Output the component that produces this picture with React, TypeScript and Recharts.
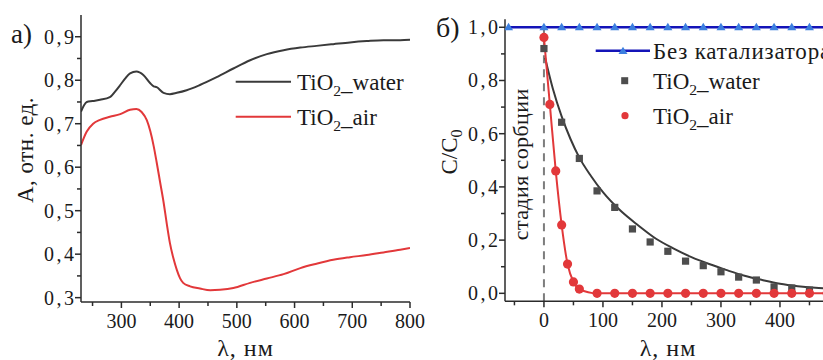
import React from 'react';
import { LineChart, Line, XAxis, YAxis, ReferenceLine, Legend } from 'recharts';

const SERIF = '"Liberation Serif", "Times New Roman", Times, serif';
const AXIS_COLOR = '#2b2b2b';
const TEXT_COLOR = '#1a1a1a';
const WATER_COLOR = '#3a3a3a';
const WATER_MARK = '#4d4d4d';
const AIR_COLOR = '#e2383a';
const BLUE_LINE = '#1414b8';
const BLUE_MARK = '#3c7fe0';
const DASH_COLOR = '#7d7d7d';

// ---------- panel a: absorbance spectra ----------
const spectraWavelengthWater = [230, 235, 240, 250, 263, 280, 289, 298, 306, 315, 326, 338, 350, 356, 361, 373, 384, 396, 413, 436, 465, 494, 523, 552, 581, 610, 638, 667, 696, 725, 754, 783, 800];
const spectraWater = [0.728, 0.742, 0.750, 0.752, 0.755, 0.761, 0.774, 0.789, 0.803, 0.816, 0.820, 0.812, 0.793, 0.786, 0.784, 0.771, 0.768, 0.771, 0.777, 0.789, 0.807, 0.827, 0.846, 0.860, 0.869, 0.875, 0.879, 0.883, 0.887, 0.890, 0.892, 0.892, 0.893];
const spectraWavelengthAir = [230, 240, 251, 263, 280, 298, 315, 326, 335, 344, 350, 356, 361, 367, 373, 378.5, 384, 390, 396, 401.5, 407, 419, 436, 454, 471, 494, 523, 552, 581, 610, 638, 667, 696, 725, 754, 783, 800];
const spectraAir = [0.651, 0.682, 0.700, 0.709, 0.716, 0.722, 0.732, 0.734, 0.727, 0.708, 0.683, 0.648, 0.612, 0.566, 0.520, 0.471, 0.426, 0.391, 0.364, 0.345, 0.334, 0.326, 0.321, 0.317, 0.318, 0.322, 0.334, 0.344, 0.354, 0.368, 0.378, 0.387, 0.393, 0.398, 0.404, 0.410, 0.414];
const spectraXTicks = [250, 300, 350, 400, 450, 500, 550, 600, 650, 700, 750, 800];
const spectraYTicks = [0.3, 0.35, 0.4, 0.45, 0.5, 0.55, 0.6, 0.65, 0.7, 0.75, 0.8, 0.85, 0.9];

// ---------- panel b: kinetics ----------
const timeBlank = [-60, 0, 30, 60, 90, 120, 150, 180, 210, 240, 270, 300, 330, 360, 390, 420, 450, 480];
const blankValues = [1.0, 1.0, 1.0, 1.0, 1.0, 1.0, 1.0, 1.0, 1.0, 1.0, 1.0, 1.0, 1.0, 1.0, 1.0, 1.0, 1.0, 1.0];
const timeWater = [0, 30, 60, 90, 120, 150, 180, 210, 240, 270, 300, 330, 360, 390, 420, 450, 480];
const waterValues = [0.92, 0.643, 0.507, 0.385, 0.323, 0.242, 0.193, 0.158, 0.121, 0.104, 0.081, 0.061, 0.05, 0.024, 0.02, 0.012, 0.01];
const timeWaterFit = [2, 15, 30, 45, 60, 80, 100, 130, 160, 190, 220, 250, 280, 310, 340, 370, 400, 430, 460, 490];
const waterFitValues = [0.885, 0.77, 0.665, 0.58, 0.51, 0.44, 0.38, 0.31, 0.255, 0.205, 0.168, 0.136, 0.11, 0.087, 0.066, 0.05, 0.036, 0.027, 0.021, 0.017];
const timeAir = [0, 10, 20, 30, 40, 50, 60, 90, 120, 150, 180, 210, 240, 270, 300, 330, 360, 390, 420, 450, 480];
const airValues = [0.962, 0.71, 0.46, 0.257, 0.11, 0.043, 0.016, 0.0, 0.0, 0.0, 0.0, 0.0, 0.0, 0.0, 0.0, 0.0, 0.0, 0.0, 0.0, 0.0, 0.0];
const kineticsXTicks = [-50, 0, 50, 100, 150, 200, 250, 300, 350, 400, 450];
const kineticsYTicks = [0, 0.1, 0.2, 0.3, 0.4, 0.5, 0.6, 0.7, 0.8, 0.9, 1.0];

const toPoints = (xs: number[], ys: number[]) => xs.map((x, i) => ({ x, v: ys[i] }));

const fmt = (v: number) => v.toFixed(1).replace('.', ',');

const makeXTick = (isMajor: (v: number) => boolean) => (props: any) => {
  const { x, y, payload } = props;
  const v = payload.value;
  const major = isMajor(v);
  return (
    <g>
      <line x1={x} x2={x} y1={y} y2={y + (major ? 6 : 4)} stroke={AXIS_COLOR} strokeWidth={1.5} />
      {major && (
        <text x={x} y={y + 26} textAnchor="middle" fontFamily={SERIF} fontSize={20} fill={TEXT_COLOR}>
          {v}
        </text>
      )}
    </g>
  );
};

const makeYTick = (isMajor: (v: number) => boolean) => (props: any) => {
  const { x, y, payload } = props;
  const v = payload.value;
  const major = isMajor(v);
  return (
    <g>
      <line x1={x} x2={x - (major ? 6 : 4)} y1={y} y2={y} stroke={AXIS_COLOR} strokeWidth={1.5} />
      {major && (
        <text
          x={x - 4.5}
          y={y + 7}
          textAnchor="end"
          fontFamily={SERIF}
          fontSize={20}
          letterSpacing={2.5}
          fill={TEXT_COLOR}
        >
          {fmt(v)}
        </text>
      )}
    </g>
  );
};

const TiO2 = ({ x, y, suffix, size }: { x: number; y: number; suffix: string; size: number }) => (
  <text x={x} y={y} fontFamily={SERIF} fontSize={size} fill={TEXT_COLOR}>
    TiO
    <tspan fontSize={size * 0.68} dy={size * 0.28}>2</tspan>
    <tspan dy={-size * 0.28}>{suffix}</tspan>
  </text>
);

const LegendA = () => (
  <svg width={190} height={75} style={{ overflow: 'visible' }}>
    <line x1={5.7} x2={61} y1={21.7} y2={21.7} stroke={WATER_COLOR} strokeWidth={2} />
    <TiO2 x={67} y={29.5} suffix="_water" size={23} />
    <line x1={5.7} x2={61} y1={56.7} y2={56.7} stroke={AIR_COLOR} strokeWidth={2} />
    <TiO2 x={67} y={64.5} suffix="_air" size={23} />
  </svg>
);

const LegendB = () => (
  <svg width={260} height={100} style={{ overflow: 'visible' }}>
    <line x1={5.7} x2={60} y1={20.7} y2={20.7} stroke={BLUE_LINE} strokeWidth={2.5} />
    <polygon points="33,16.7 37.5,24 28.5,24" fill={BLUE_MARK} />
    <text x={63} y={28.5} fontFamily={SERIF} fontSize={23} letterSpacing={0.8} fill={TEXT_COLOR}>
      Без катализатора
    </text>
    <rect x={31.2} y={47.2} width={7} height={7} fill={WATER_MARK} />
    <TiO2 x={63} y={58.5} suffix="_water" size={23} />
    <circle cx={35} cy={85.7} r={3.6} fill={AIR_COLOR} />
    <TiO2 x={63} y={93.5} suffix="_air" size={23} />
  </svg>
);

const squareDot = (p: any) => (
  <rect key={`sq-${p.index}`} x={p.cx - 3.6} y={p.cy - 3.6} width={7.2} height={7.2} fill={WATER_MARK} />
);
const triDot = (p: any) => (
  <polygon
    key={`tr-${p.index}`}
    points={`${p.cx},${p.cy - 4.5} ${p.cx + 4.5},${p.cy + 3} ${p.cx - 4.5},${p.cy + 3}`}
    fill={BLUE_MARK}
  />
);
const roundDot = (p: any) => (
  <circle key={`ci-${p.index}`} cx={p.cx} cy={p.cy} r={4.6} fill={AIR_COLOR} />
);

const PanelA = () => (
  <LineChart width={440} height={360} margin={{ top: 15, right: 30, bottom: 0, left: 0 }}>
    <XAxis
      type="number"
      dataKey="x"
      domain={[230, 800]}
      allowDataOverflow
      ticks={spectraXTicks}
      interval={0}
      tickSize={0}
      tickMargin={0}
      tickLine={false}
      height={58}
      axisLine={{ stroke: AXIS_COLOR, strokeWidth: 1.5 }}
      tick={makeXTick((v) => v % 100 === 0)}
      label={{
        content: () => (
          <text
            x={245.5}
            y={356}
            textAnchor="middle"
            fontFamily={SERIF}
            fontSize={24}
            letterSpacing={1}
            fill={TEXT_COLOR}
          >
            λ, нм
          </text>
        ),
      }}
    />
    <YAxis
      type="number"
      domain={[0.29, 0.95]}
      allowDataOverflow
      ticks={spectraYTicks}
      interval={0}
      tickSize={0}
      tickMargin={0}
      tickLine={false}
      width={81}
      axisLine={{ stroke: AXIS_COLOR, strokeWidth: 1.5 }}
      tick={makeYTick((v) => Math.round(v * 100) % 10 === 0)}
      label={{
        content: () => (
          <g>
            <text x={11} y={43} fontFamily={SERIF} fontSize={27} fill={TEXT_COLOR}>а)</text>
            <text
              x={33}
              y={150}
              transform="rotate(-90 33 150)"
              textAnchor="middle"
              fontFamily={SERIF}
              fontSize={23}
              letterSpacing={0.5}
              fill={TEXT_COLOR}
            >
              A, отн. ед.
            </text>
          </g>
        ),
      }}
    />
    <Legend
      layout="vertical"
      align="center"
      verticalAlign="middle"
      wrapperStyle={{ left: 230, top: 60, width: 200 }}
      content={() => <LegendA />}
    />
    <Line
      data={toPoints(spectraWavelengthWater, spectraWater)}
      dataKey="v"
      type="monotone"
      stroke={WATER_COLOR}
      strokeWidth={2}
      dot={false}
      activeDot={false}
      isAnimationActive={false}
    />
    <Line
      data={toPoints(spectraWavelengthAir, spectraAir)}
      dataKey="v"
      type="monotone"
      stroke={AIR_COLOR}
      strokeWidth={2}
      dot={false}
      activeDot={false}
      isAnimationActive={false}
    />
  </LineChart>
);

const PanelB = () => (
  <LineChart width={420} height={360} margin={{ top: 19.3, right: 8.7, bottom: 0, left: 0 }}>
    <XAxis
      type="number"
      dataKey="x"
      domain={[-66, 487]}
      allowDataOverflow
      ticks={kineticsXTicks}
      interval={0}
      tickSize={0}
      tickMargin={0}
      tickLine={false}
      height={58.7}
      axisLine={{ stroke: AXIS_COLOR, strokeWidth: 1.5 }}
      tick={makeXTick((v) => v % 100 === 0)}
      label={{
        content: () => (
          <text
            x={248}
            y={356}
            textAnchor="middle"
            fontFamily={SERIF}
            fontSize={24}
            letterSpacing={1}
            fill={TEXT_COLOR}
          >
            λ, нм
          </text>
        ),
      }}
    />
    <YAxis
      type="number"
      domain={[-0.03, 1.03]}
      allowDataOverflow
      ticks={kineticsYTicks}
      interval={0}
      tickSize={0}
      tickMargin={0}
      tickLine={false}
      width={85}
      axisLine={{ stroke: AXIS_COLOR, strokeWidth: 1.5 }}
      tick={makeYTick((v) => Math.round(v * 10) % 2 === 0)}
      label={{
        content: () => (
          <g>
            <text x={16} y={37} fontFamily={SERIF} fontSize={28} fill={TEXT_COLOR}>б)</text>
            <text
              x={37}
              y={152}
              transform="rotate(-90 37 152)"
              textAnchor="middle"
              fontFamily={SERIF}
              fontSize={23}
              fill={TEXT_COLOR}
            >
              C/C
              <tspan fontSize={16} dy={5}>0</tspan>
            </text>
          </g>
        ),
      }}
    />
    <ReferenceLine
      segment={[{ x: 0, y: 1.0 }, { x: 0, y: -0.03 }]}
      stroke={DASH_COLOR}
      strokeWidth={2}
      strokeDasharray="8 6"
      label={{
        content: (p: any) => {
          const vb = p && p.viewBox ? p.viewBox : { x: 124, y: 27, width: 0, height: 274 };
          const tx = vb.x - 16;
          const ty = vb.y + vb.height / 2;
          return (
            <text
              x={tx}
              y={ty}
              transform={`rotate(-90 ${tx} ${ty})`}
              textAnchor="middle"
              fontFamily={SERIF}
              fontSize={22}
              letterSpacing={0.4}
              fill={TEXT_COLOR}
            >
              стадия сорбции
            </text>
          );
        },
      }}
    />
    <Legend
      layout="vertical"
      align="center"
      verticalAlign="middle"
      wrapperStyle={{ left: 170, top: 30, width: 260 }}
      content={() => <LegendB />}
    />
    <Line
      data={toPoints(timeWater, waterValues)}
      dataKey="v"
      stroke="none"
      dot={squareDot}
      activeDot={false}
      isAnimationActive={false}
    />
    <Line
      data={toPoints(timeWaterFit, waterFitValues)}
      dataKey="v"
      type="monotone"
      stroke={WATER_COLOR}
      strokeWidth={2}
      dot={false}
      activeDot={false}
      isAnimationActive={false}
    />
    <Line
      data={toPoints(timeAir, airValues)}
      dataKey="v"
      type="monotone"
      stroke={AIR_COLOR}
      strokeWidth={2}
      dot={roundDot}
      activeDot={false}
      isAnimationActive={false}
    />
    <Line
      data={toPoints(timeBlank, blankValues)}
      dataKey="v"
      stroke={BLUE_LINE}
      strokeWidth={2.5}
      dot={triDot}
      activeDot={false}
      isAnimationActive={false}
    />
  </LineChart>
);

export default function App() {
  return (
    <div
      style={{
        position: 'absolute',
        left: 0,
        top: 0,
        width: 823,
        height: 360,
        overflow: 'hidden',
        background: '#ffffff',
      }}
    >
      <div style={{ position: 'absolute', left: 0, top: 0 }}>
        <PanelA />
      </div>
      <div style={{ position: 'absolute', left: 420, top: 0 }}>
        <PanelB />
      </div>
    </div>
  );
}
